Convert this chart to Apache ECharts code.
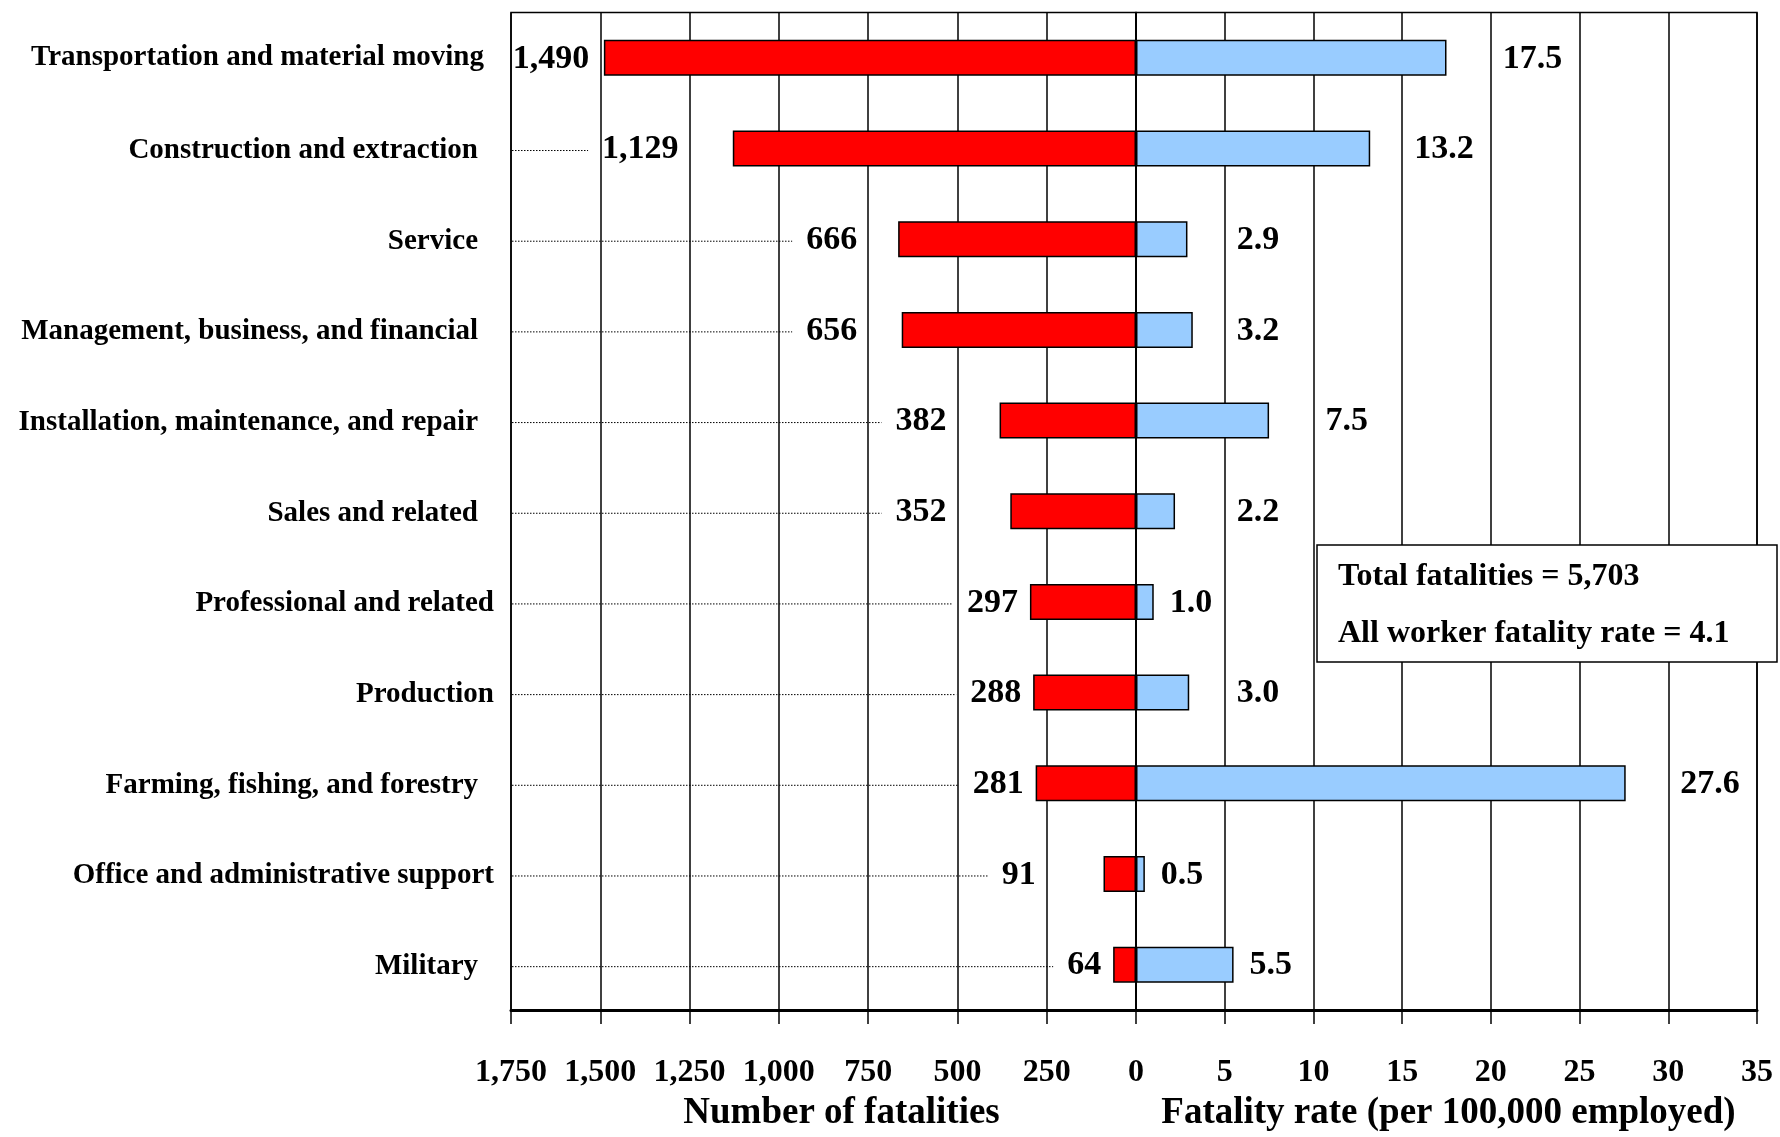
<!DOCTYPE html>
<html>
<head>
<meta charset="utf-8">
<script src="https://cdn.jsdelivr.net/npm/echarts@6/dist/echarts.min.js"></script>
<style>
  html, body { margin: 0; padding: 0; background: #fff; }
  #chart { width: 1780px; height: 1137px; }
</style>
</head>
<body>
<div id="chart"></div>
<script>
const categories = [
  'Transportation and material moving',
  'Construction and extraction',
  'Service',
  'Management, business, and financial',
  'Installation, maintenance, and repair',
  'Sales and related',
  'Professional and related',
  'Production',
  'Farming, fishing, and forestry',
  'Office and administrative support',
  'Military'
];
const fatalities = [1490, 1129, 666, 656, 382, 352, 297, 288, 281, 91, 64];
const rates = [17.5, 13.2, 2.9, 3.2, 7.5, 2.2, 1.0, 3.0, 27.6, 0.5, 5.5];
const fatalityAxisMax = 1750, fatalityInterval = 250;
const rateAxisMax = 35, rateInterval = 5;
const noteLines = ['Total fatalities = 5,703', 'All worker fatality rate = 4.1'];
const leftTitle = 'Number of fatalities';
const rightTitle = 'Fatality rate (per 100,000 employed)';

// label alignment groups (style only): labels flush with the axis vs. indented
const flushLabels = ['Professional and related', 'Production', 'Office and administrative support'];
const halfIndentLabels = ['Transportation and material moving'];

const FONT = '"Liberation Serif", "Times New Roman", serif';
const VAL_SIZE = 34;
const measureCtx = document.createElement('canvas').getContext('2d');
function textWidth(t, size) {
  measureCtx.font = 'bold ' + size + 'px "Liberation Serif"';
  return measureCtx.measureText(t).width;
}
function fmtInt(v) { return Number(v).toLocaleString('en-US'); }

const chart = echarts.init(document.getElementById('chart'), null, { renderer: 'canvas' });

const axisLabelStyle = { fontFamily: FONT, fontWeight: 'bold', fontSize: 32, color: '#000', margin: 47 };
const nameStyle = { fontFamily: FONT, fontWeight: 'bold', fontSize: 37, color: '#000' };
const lineBlack = { color: '#000', width: 1.5 };
const catFont = { fontFamily: FONT, fontWeight: 'bold', fontSize: 29, color: '#000' };

function leftLabelRender(params, api) {
  const v = api.value(0), i = api.value(1);
  const y = api.coord([0, i])[1];
  const g = Math.ceil(v / fatalityInterval) * fatalityInterval;
  let right;
  if (g - v <= 0.7 * fatalityInterval) right = api.coord([g, i])[0] - 11;
  else right = api.coord([v, i])[0] - 12;
  const txt = fmtInt(v);
  const w = textWidth(txt, VAL_SIZE);
  const leftBorder = api.coord([fatalityAxisMax, i])[0];
  const children = [{
    type: 'text', x: right, y: y + 1,
    style: { text: txt, fill: '#000', fontFamily: FONT, fontWeight: 'bold', fontSize: VAL_SIZE, align: 'right', verticalAlign: 'middle' }
  }];
  const lineEnd = right - w - 14;
  if (lineEnd > leftBorder + 12) {
    children.push({
      type: 'line', shape: { x1: leftBorder + 1, y1: y + 2, x2: lineEnd, y2: y + 2 },
      style: { stroke: '#000', lineWidth: 1, lineDash: [1.5, 1.5] }
    });
  }
  return { type: 'group', children };
}

function rightLabelRender(params, api) {
  const v = api.value(0), i = api.value(1);
  const y = api.coord([0, i])[1];
  const g = Math.ceil(v / rateInterval) * rateInterval;
  let left;
  if (g - v <= 0.7 * rateInterval) left = api.coord([g, i])[0] + 12;
  else left = api.coord([v, i])[0] + 16;
  return {
    type: 'text', x: left, y: y + 1,
    style: { text: Number(v).toFixed(1), fill: '#000', fontFamily: FONT, fontWeight: 'bold', fontSize: VAL_SIZE, align: 'left', verticalAlign: 'middle' }
  };
}

const option = {
  animation: false,
  backgroundColor: '#fff',
  grid: [
    { left: 511, width: 625, top: 12.5, height: 1004, show: true, borderColor: '#000', borderWidth: 1.5, backgroundColor: 'transparent' },
    { left: 1136, width: 621, top: 12.5, height: 1004, show: true, borderColor: '#000', borderWidth: 1.5, backgroundColor: 'transparent' }
  ],
  xAxis: [
    {
      gridIndex: 0, type: 'value', min: 0, max: fatalityAxisMax, interval: fatalityInterval, inverse: true,
      axisLine: { show: true, onZero: false, lineStyle: { color: '#000', width: 3 } },
      axisTick: { show: true, length: 14, lineStyle: lineBlack },
      splitLine: { show: true, lineStyle: lineBlack },
      axisLabel: Object.assign({ formatter: v => fmtInt(v) }, axisLabelStyle),
      name: leftTitle, nameLocation: 'middle', nameGap: 85,
      nameTextStyle: Object.assign({ padding: [0, 0, 0, 36] }, nameStyle)
    },
    {
      gridIndex: 1, type: 'value', min: 0, max: rateAxisMax, interval: rateInterval,
      axisLine: { show: true, onZero: false, lineStyle: { color: '#000', width: 3 } },
      axisTick: { show: true, length: 14, lineStyle: lineBlack },
      splitLine: { show: true, lineStyle: lineBlack },
      axisLabel: Object.assign({ formatter: v => (v === 0 ? '' : String(v)) }, axisLabelStyle),
      name: rightTitle, nameLocation: 'middle', nameGap: 85,
      nameTextStyle: Object.assign({ padding: [0, 0, 0, 4] }, nameStyle)
    }
  ],
  yAxis: [
    {
      gridIndex: 0, type: 'category', data: categories, inverse: true,
      axisLine: { show: false }, axisTick: { show: false }, splitLine: { show: false },
      axisLabel: Object.assign({
        margin: 17,
        formatter: v => {
          const key = flushLabels.includes(v) ? 'f' : (halfIndentLabels.includes(v) ? 'h' : 'n');
          return '{' + key + '|' + v + '}';
        },
        rich: {
          f: Object.assign({ padding: [4, 0, 0, 0] }, catFont),
          h: Object.assign({ padding: [0, 10, 0, 0] }, catFont),
          n: Object.assign({ padding: [4, 16, 0, 0] }, catFont)
        }
      }, catFont)
    },
    { gridIndex: 1, type: 'category', data: categories, inverse: true, show: false }
  ],
  series: [
    {
      type: 'bar', xAxisIndex: 0, yAxisIndex: 0, data: fatalities, barWidth: 36,
      itemStyle: { color: '#FF0000', borderColor: '#000', borderWidth: 1.5 }
    },
    {
      type: 'bar', xAxisIndex: 1, yAxisIndex: 1, data: rates, barWidth: 36,
      itemStyle: { color: '#99CCFF', borderColor: '#000', borderWidth: 1.5 }
    },
    {
      type: 'custom', xAxisIndex: 0, yAxisIndex: 0, z: 5,
      data: fatalities.map((v, i) => [v, i]), encode: { x: 0, y: 1 },
      renderItem: leftLabelRender
    },
    {
      type: 'custom', xAxisIndex: 1, yAxisIndex: 1, z: 5,
      data: rates.map((v, i) => [v, i]), encode: { x: 0, y: 1 },
      renderItem: rightLabelRender
    }
  ],
  graphic: [
    {
      type: 'group', z: 100,
      children: [
        { type: 'rect', shape: { x: 1317, y: 545, width: 460, height: 117 }, style: { fill: '#fff', stroke: '#000', lineWidth: 1.5 }, z: 100 },
        { type: 'text', x: 1338, y: 577, z: 101, style: { text: noteLines[0], fill: '#000', fontFamily: FONT, fontWeight: 'bold', fontSize: 32, verticalAlign: 'middle' } },
        { type: 'text', x: 1338, y: 634, z: 101, style: { text: noteLines[1], fill: '#000', fontFamily: FONT, fontWeight: 'bold', fontSize: 32, verticalAlign: 'middle' } }
      ]
    }
  ]
};
chart.setOption(option);
</script>
</body>
</html>
